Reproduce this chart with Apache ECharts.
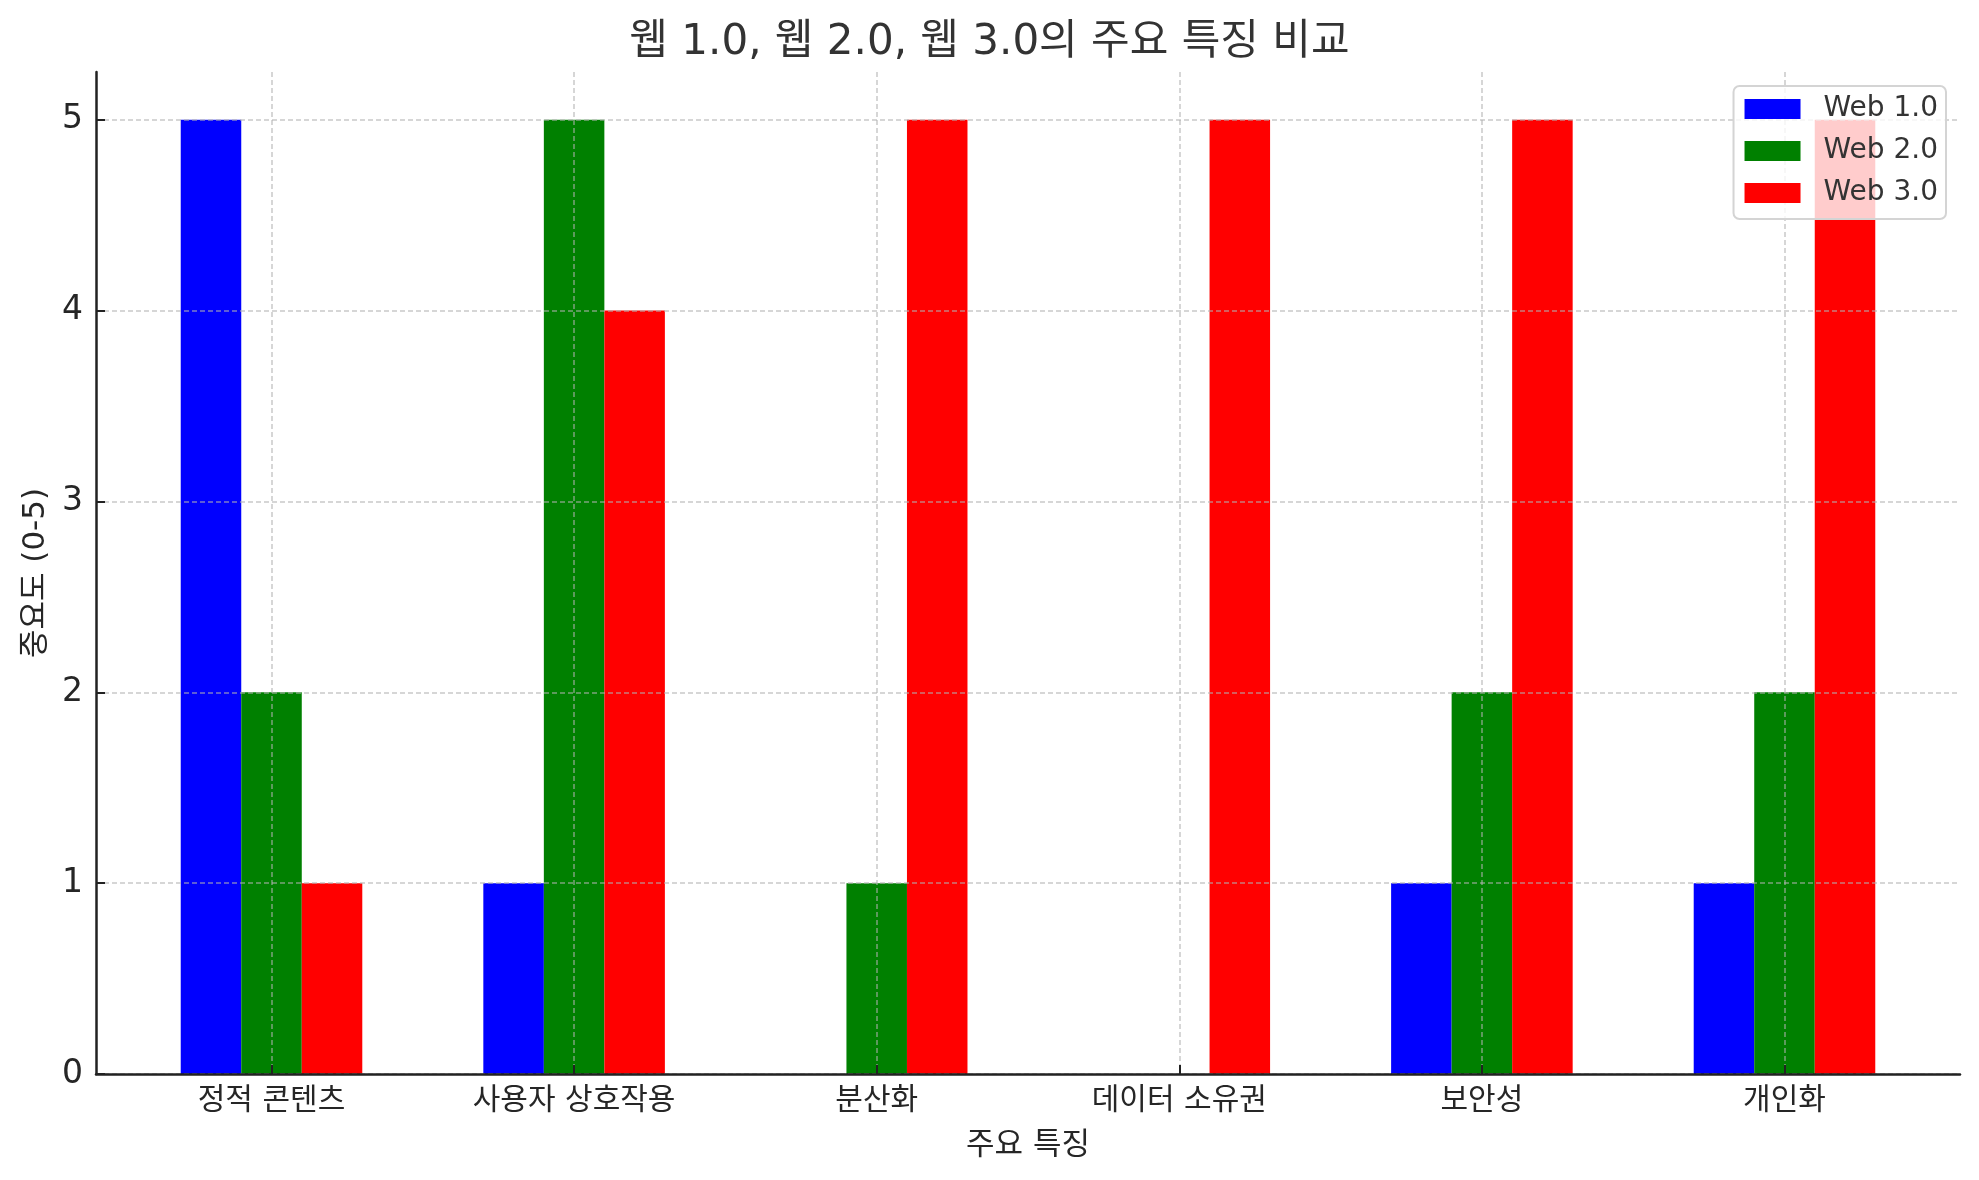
<!DOCTYPE html>
<html>
<head>
<meta charset="utf-8">
<script src="https://cdn.jsdelivr.net/npm/echarts@6/dist/echarts.min.js"></script>
<style>
  html, body { margin: 0; padding: 0; background: #fff; }
  #chart { width: 1979px; height: 1180px; }
</style>
</head>
<body>
<div id="chart"></div>
<script>
// Web 1.0 / 2.0 / 3.0 feature scores, grouped bars (matplotlib-style look).
const FONT = 'DejaVu Sans, "Noto Sans CJK KR", sans-serif';
const INK = '#262626';

const titleText = '웹 1.0, 웹 2.0, 웹 3.0의 주요 특징 비교';
const xName = '주요 특징';
const yName = '중요도 (0-5)';

const categories = ['정적 콘텐츠', '사용자 상호작용', '분산화', '데이터 소유권', '보안성', '개인화'];
const seriesNames = ['Web 1.0', 'Web 2.0', 'Web 3.0'];
const web1 = [5, 1, 0, 0, 1, 1];
const web2 = [2, 5, 1, 0, 2, 2];
const web3 = [1, 4, 5, 5, 5, 5];
const yTicks = [0, 1, 2, 3, 4, 5];
const colors = ['#0000ff', '#008000', '#ff0000'];

const xTicks = categories.map((_, i) => i);
const gridLine = { show: true, lineStyle: { color: 'rgba(176,176,176,0.7)', width: 1.5, type: [5, 3] } };

function bars(name, values, color) {
  return {
    name, type: 'bar',
    data: values.map((v, i) => [i, v]),
    barWidth: '20%', barGap: '0%',
    itemStyle: { color },
    emphasis: { disabled: true },
    z: 2,
  };
}

const chart = echarts.init(document.getElementById('chart'), null, { renderer: 'canvas' });
chart.setOption({
  backgroundColor: '#fff',
  animation: false,
  textStyle: { fontFamily: FONT },
  title: {
    text: titleText, left: 'center', top: 22, padding: 0,
    textStyle: { color: '#333', fontSize: 42, fontWeight: 'normal', fontFamily: FONT },
  },
  legend: {
    right: 33, top: 86, orient: 'vertical', icon: 'rect',
    itemWidth: 56, itemHeight: 20, itemGap: 14,
    padding: [9, 8, 12, 11],
    backgroundColor: 'rgba(255,255,255,0.8)',
    borderColor: '#d4d4d4', borderWidth: 2, borderRadius: 6,
    textStyle: { color: '#333', fontSize: 28, fontFamily: FONT, lineHeight: 28, padding: [0, 0, 0, 18] },
    data: seriesNames,
    z: 10,
  },
  grid: { left: 96, right: 19, top: 72, bottom: 106, containLabel: false },
  xAxis: {
    type: 'value', min: -0.58, max: 5.58, z: 3,
    name: xName, nameLocation: 'middle', nameGap: 56,
    nameTextStyle: { color: INK, fontSize: 31, fontFamily: FONT },
    axisLine: { show: true, onZero: false, lineStyle: { color: '#222', width: 2.5 } },
    axisTick: { show: true, inside: true, length: 9, customValues: xTicks, lineStyle: { color: '#222', width: 2 } },
    axisLabel: { customValues: xTicks, color: INK, fontSize: 30, margin: 12, fontFamily: FONT,
                 formatter: (v) => categories[v] },
    splitLine: gridLine,
  },
  yAxis: {
    type: 'value', min: 0, max: 5.25, z: 3,
    name: yName, nameLocation: 'middle', nameGap: 43, nameRotate: 90,
    nameTextStyle: { color: INK, fontSize: 31, fontFamily: FONT },
    axisLine: { show: true, onZero: false, lineStyle: { color: '#222', width: 2.5 } },
    axisTick: { show: true, inside: true, length: 9, customValues: yTicks, lineStyle: { color: '#222', width: 2 } },
    axisLabel: { customValues: yTicks, color: INK, fontSize: 33, margin: 13, fontFamily: FONT },
    splitLine: gridLine,
  },
  series: [
    bars(seriesNames[0], web1, colors[0]),
    bars(seriesNames[1], web2, colors[1]),
    bars(seriesNames[2], web3, colors[2]),
  ],
});
</script>
</body>
</html>
